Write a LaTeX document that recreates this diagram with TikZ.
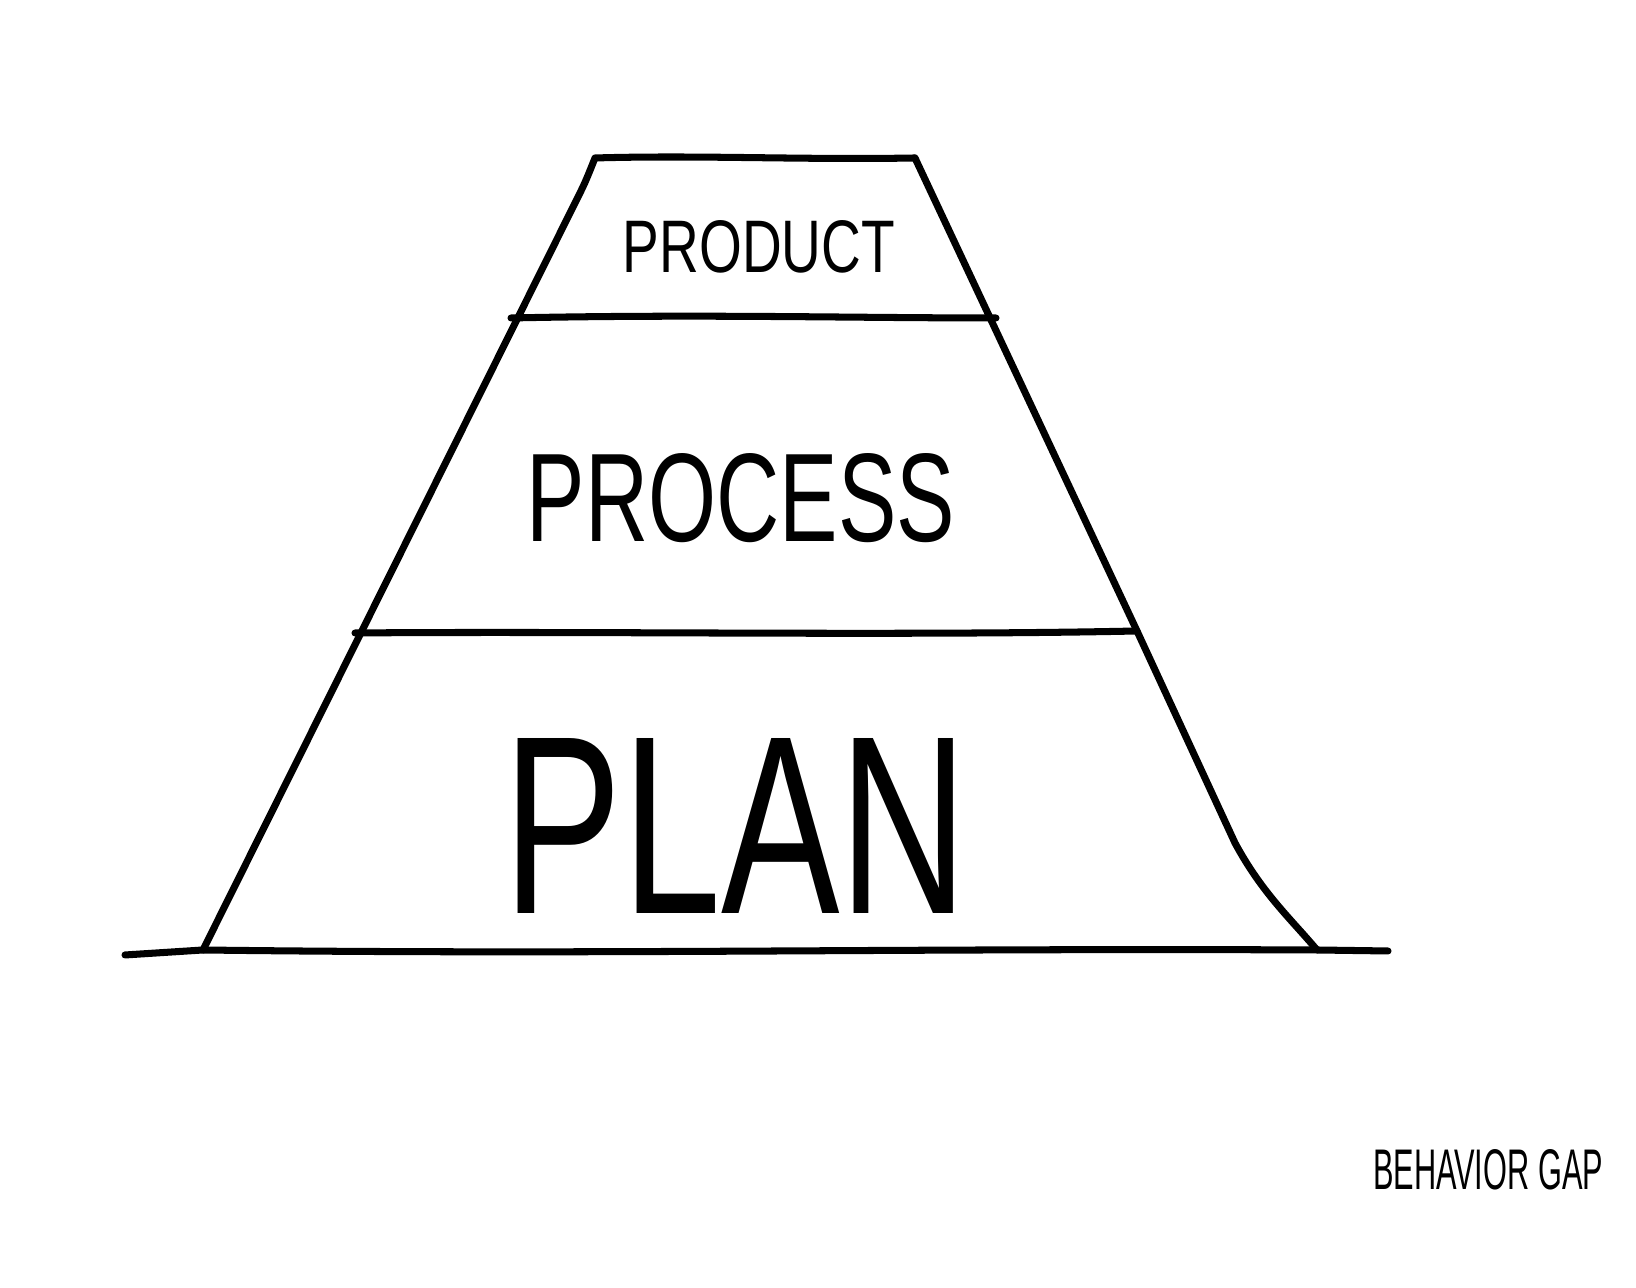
\documentclass[tikz,border=0pt]{standalone}
\usepackage{fontspec}
\setmainfont{Liberation Sans}
\usepackage{graphicx}
\usepackage{tikz}

\begin{document}
\begin{tikzpicture}[line width=2pt, line cap=round, line join=round]
				\useasboundingbox (0,0) rectangle (16.36,12.88);
				\coordinate (tl) at (5.95,11.30);
				\coordinate (tr) at (9.15,11.30);
				\coordinate (ml) at (5.11,9.70);
				\coordinate (mr) at (9.96,9.70);
				\coordinate (ll) at (3.55,6.55);
				\coordinate (lr) at (11.37,6.57);
				\coordinate (bl) at (2.03,3.38);
				\coordinate (br) at (13.17,3.38);
				\coordinate (g1) at (1.25,3.33);
				\coordinate (g2) at (13.88,3.37);
				\draw (g1) -- (bl) .. controls (6,3.33) and (9,3.40) .. (br) -- (g2);
				\draw (bl) -- (5.75,10.85) .. controls (5.85,11.05) .. (tl) .. controls (7,11.33) and (8,11.28) .. (tr);
				\draw (tr) -- (lr) -- (12.35,4.45) .. controls (12.62,3.95) and (12.9,3.7) .. (br);
				\draw (ml) .. controls (7,9.74) and (8.5,9.70) .. (mr);
				\draw (ll) .. controls (6,6.57) and (9,6.52) .. (lr);
				\draw (7.59,10.41) node (product) {\resizebox{2.72cm}{0.52cm}{PRODUCT}};
				\draw (7.41,7.90) node (process) {\resizebox{4.28cm}{0.88cm}{PROCESS}};
				\draw (7.36,4.62) node (plan) {\resizebox{4.64cm}{1.75cm}{PLAN}};
				\draw (14.88,1.18) node (gap) {\resizebox{2.30cm}{0.40cm}{BEHAVIOR GAP}};
\end{tikzpicture}
\end{document}
